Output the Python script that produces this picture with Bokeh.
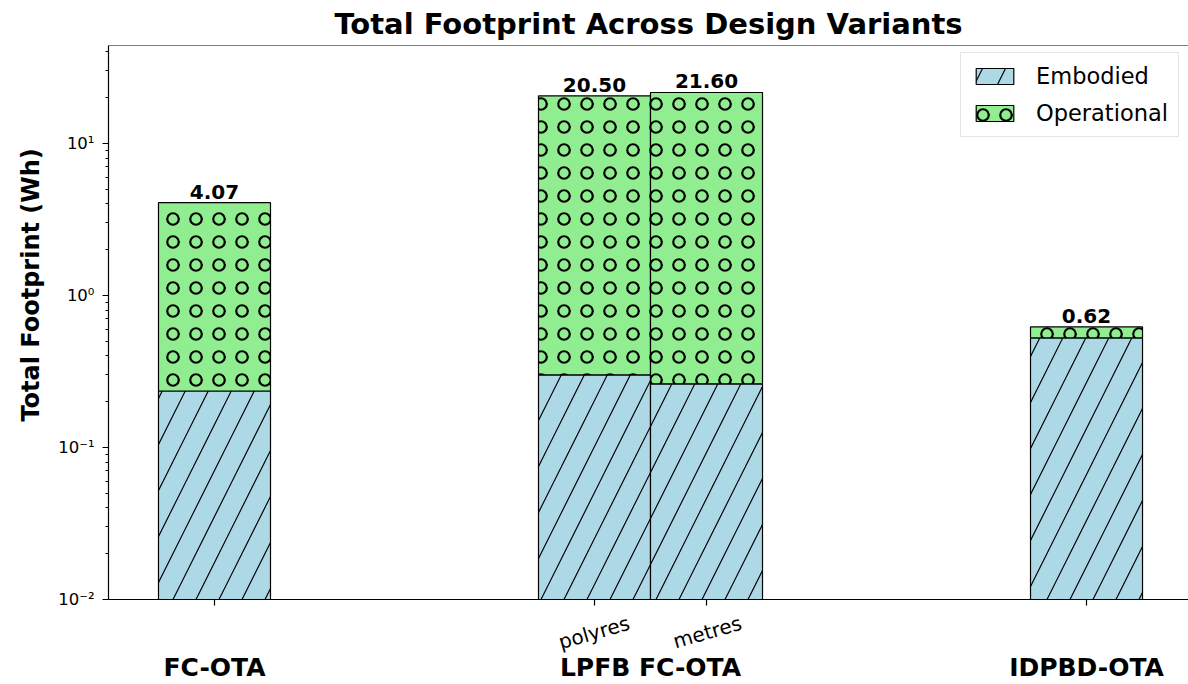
from bokeh.plotting import figure
from bokeh.models import (Range1d, FixedTicker, LinearAxis, Span, Legend, LegendItem,
                          ColumnDataSource, CustomJSTickFormatter)
from bokeh.embed import file_html
from bokeh.resources import INLINE
from bokeh.core.properties import value

# ---- data ----
groups = ["FC-OTA", "LPFB FC-OTA", "IDPBD-OTA"]
variants = ["", "polyres", "metres", ""]
variant_group = [0, 1, 1, 2]
embodied = [0.235, 0.30, 0.262, 0.525]
totals = [4.07, 20.50, 21.60, 0.62]
operational = [t - e for t, e in zip(totals, embodied)]
total_labels = ["4.07", "20.50", "21.60", "0.62"]

FONT = "DejaVu Sans"
W = 0.2569
offsets = [0.0, -W / 2, W / 2, 0.0]
xs = [g + o for g, o in zip(variant_group, offsets)]

y0, y1 = 0.01, 44.0
x0, x1 = -0.2431, 2.2339
PX_PER_UNIT = 1080 / (x1 - x0)

src = ColumnDataSource(dict(
    x=xs, emb=embodied, op=operational, tot=totals,
    base=[y0] * len(xs), lab=total_labels,
))

p = figure(width=1188, height=684, y_axis_type="log",
           x_range=Range1d(x0, x1), y_range=Range1d(y0, y1),
           output_backend="svg", toolbar_location=None,
           min_border_left=108, min_border_right=0, min_border_top=45, min_border_bottom=84)

p.title.text = "Total Footprint Across Design Variants"
p.title.align = "center"
p.title.text_font = FONT
p.title.text_font_size = "29px"
p.title.text_font_style = "bold"
p.title.text_color = "black"
p.title.standoff = 9

p.outline_line_color = None
p.xgrid.visible = False
p.ygrid.visible = False
p.background_fill_color = "white"
p.border_fill_color = "white"

r_emb = p.vbar(x="x", width=W, bottom="base", top="emb", source=src,
               fill_color="#add8e6", line_color="black", line_width=1.2,
               hatch_pattern="/", hatch_color="black", hatch_scale=46, hatch_weight=1.2)
r_op = p.vbar(x="x", width=W, bottom="emb", top="tot", source=src,
              fill_color="#90ee90", line_color="black", line_width=1.2,
              hatch_pattern="o", hatch_color="black", hatch_scale=23, hatch_weight=2.2)

p.text(x="x", y="tot", text="lab", source=src, text_align="center", text_baseline="bottom",
       y_offset=-4, text_font=value(FONT), text_font_size="20px", text_font_style="bold",
       text_color="black")

# top spine
p.add_layout(Span(location=y1, dimension="width", line_color="black", line_width=1.2))

# y axis
yax = p.yaxis[0]
yax.ticker = FixedTicker(ticks=[0.01, 0.1, 1, 10],
                         minor_ticks=[k * 10.0 ** e for e in range(-2, 2) for k in range(2, 10)
                                      if k * 10.0 ** e < y1])
yax.formatter = CustomJSTickFormatter(code="""
const e = Math.round(Math.log10(tick));
const sup = {'-':'\u207b','0':'\u2070','1':'\u00b9','2':'\u00b2','3':'\u00b3'};
return '10' + String(e).split('').map(c => sup[c]).join('');
""")
yax.axis_label = "\u00a0" * 9 + "Total Footprint (Wh)"
yax.axis_label_text_font = FONT
yax.axis_label_text_font_size = "24px"
yax.axis_label_text_font_style = "bold"
yax.axis_label_text_color = "black"
yax.axis_label_standoff = 10
yax.major_label_text_font = FONT
yax.major_label_text_font_size = "16.5px"
yax.major_label_text_color = "black"
yax.major_label_standoff = 8
yax.major_tick_out = 6
yax.major_tick_in = 0
yax.minor_tick_out = 3
yax.minor_tick_in = 0
yax.axis_line_width = 1.2
yax.major_tick_line_width = 1.2
yax.axis_line_color = "black"
yax.major_tick_line_color = "black"
yax.minor_tick_line_color = "black"

# x axis: tick marks only
xax = p.xaxis[0]
xax.ticker = FixedTicker(ticks=xs)
xax.formatter = CustomJSTickFormatter(code="return '';")
xax.major_label_text_font_size = "1px"
xax.major_label_standoff = 0
xax.major_tick_out = 6
xax.major_tick_in = 0
xax.minor_tick_out = 0
xax.axis_line_width = 1.2
xax.major_tick_line_width = 1.2
xax.axis_line_color = "black"
xax.major_tick_line_color = "black"

# rotated variant labels, centred under their ticks
ANG = 0.28
HALF = 36.0 * 0.96 / PX_PER_UNIT
lab_pos = [x + HALF for x, n in zip(xs, variants) if n]
lab_names = [n for n in variants if n]
vax = LinearAxis(ticker=FixedTicker(ticks=lab_pos),
                 formatter=CustomJSTickFormatter(args=dict(pos=lab_pos, names=lab_names), code="""
let best = 0, d = 1e9;
for (let i = 0; i < pos.length; i++) { const dd = Math.abs(pos[i] - tick); if (dd < d) { d = dd; best = i; } }
return names[best];
"""))
vax.axis_line_color = None
vax.major_tick_line_color = None
vax.minor_tick_line_color = None
vax.major_tick_out = 0
vax.major_label_orientation = ANG
vax.major_label_standoff = 17
vax.major_label_text_font = FONT
vax.major_label_text_font_size = "20px"
vax.major_label_text_color = "black"
p.add_layout(vax, "below")

# group axis
gax = LinearAxis(ticker=FixedTicker(ticks=[0, 1, 2]),
                 formatter=CustomJSTickFormatter(args=dict(names=groups),
                                                 code="return names[Math.round(tick)];"))
gax.axis_line_color = None
gax.major_tick_line_color = None
gax.minor_tick_line_color = None
gax.major_tick_out = 0
gax.major_label_standoff = -16
gax.major_label_text_font = FONT
gax.major_label_text_font_size = "25px"
gax.major_label_text_font_style = "bold"
gax.major_label_text_color = "black"
p.add_layout(gax, "below")

legend = Legend(items=[LegendItem(label="Embodied", renderers=[r_emb]),
                       LegendItem(label="Operational", renderers=[r_op])],
                location=(852, 462))
legend.label_text_font = FONT
legend.label_text_font_size = "22.5px"
legend.label_text_color = "black"
legend.glyph_width = 47
legend.glyph_height = 20
legend.label_height = 26
legend.spacing = 11
legend.padding = 10
legend.label_standoff = 18
legend.border_line_color = "#cccccc"
legend.border_line_width = 1
legend.background_fill_alpha = 0.9
p.add_layout(legend, "center")

open("out.html", "w").write(file_html(p, INLINE))
